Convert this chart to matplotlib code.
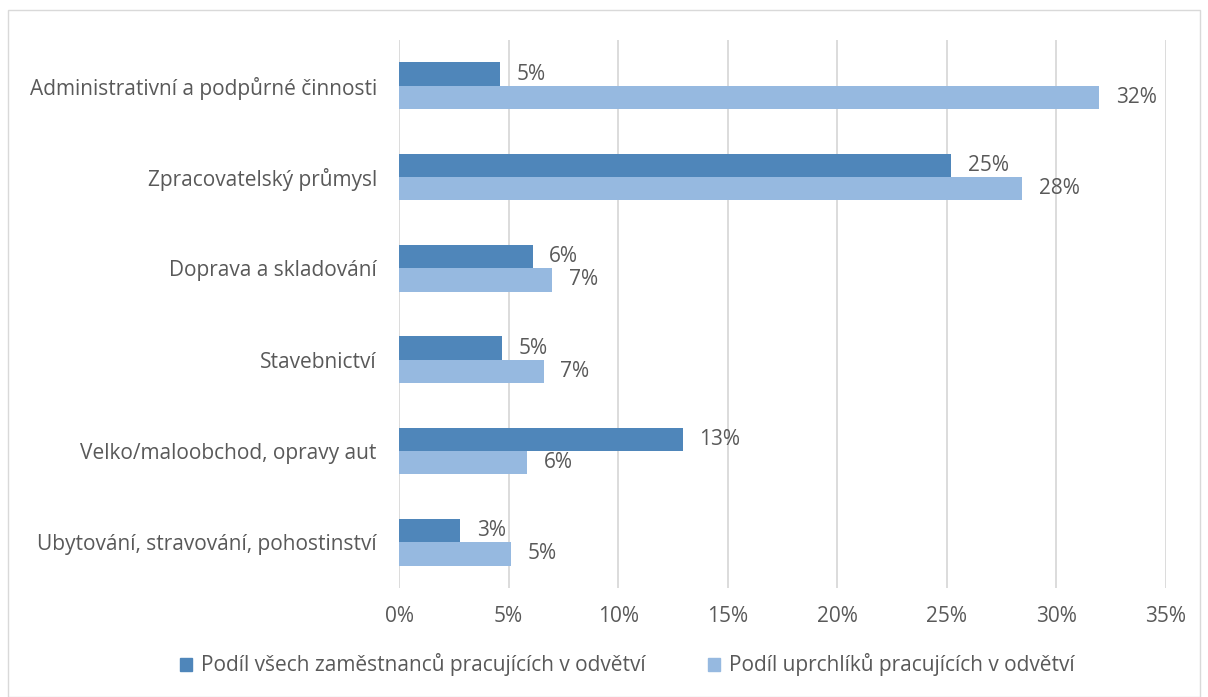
import numpy as np
import matplotlib
matplotlib.use("Agg")
from matplotlib import pyplot as plt
from matplotlib.patches import Rectangle, Patch

plt.rcParams['font.family'] = ['Open Sans', 'DejaVu Sans']

categories = ['Administrativní a podpůrné činnosti',
              'Zpracovatelský průmysl',
              'Doprava a skladování',
              'Stavebnictví',
              'Velko/maloobchod, opravy aut',
              'Ubytování, stravování, pohostinství']
vsichni = [4.6, 25.2, 6.1, 4.7, 12.95, 2.8]
uprchlici = [31.95, 28.45, 7.0, 6.6, 5.85, 5.1]
series_names = ['Podíl všech zaměstnanců pracujících v odvětví',
                'Podíl uprchlíků pracujících v odvětví']

c_dark = '#4F86BA'
c_light = '#96B9E0'
text_c = '#595959'
fs = 15

fig = plt.figure(figsize=(12.08, 6.97), dpi=100)
ax = fig.add_axes([399 / 1208, 1 - 588 / 697, 767 / 1208, 548 / 697])

y = np.arange(len(categories))
h = 0.255
ax.barh(y - h / 2, vsichni, height=h, color=c_dark, zorder=3)
ax.barh(y + h / 2, uprchlici, height=h, color=c_light, zorder=3)

for i in range(len(categories)):
    ax.text(vsichni[i] + 0.75, y[i] - h / 2, f'{round(vsichni[i]):.0f}%', va='center', ha='left',
            fontsize=fs, color=text_c)
    ax.text(uprchlici[i] + 0.75, y[i] + h / 2, f'{round(uprchlici[i]):.0f}%', va='center', ha='left',
            fontsize=fs, color=text_c)

ax.set_xlim(0, 35)
ax.set_ylim(len(categories) - 0.5, -0.5)
ax.set_xticks(np.arange(0, 36, 5))
ax.set_xticklabels([f'{v}%' for v in range(0, 36, 5)])
ax.set_yticks(y)
ax.set_yticklabels(categories)
ax.tick_params(axis='both', length=0, labelsize=fs, labelcolor=text_c)
ax.tick_params(axis='x', pad=13)
ax.tick_params(axis='y', pad=16)
ax.grid(axis='x', color='#D9D9D9', linewidth=1.3, zorder=0)
for s in ax.spines.values():
    s.set_visible(False)

handles = [Patch(color=c_dark), Patch(color=c_light)]
fig.legend(handles, series_names, loc='center', bbox_to_anchor=(627 / 1208, 1 - 665 / 697),
           ncol=2, frameon=False, fontsize=fs, labelcolor=text_c, handlelength=0.6,
           handleheight=0.6, handletextpad=0.4, columnspacing=3.0)

fig.patches.append(Rectangle((8 / 1208, 0), 1192 / 1208, 1 - 10 / 697, transform=fig.transFigure,
                             fill=False, edgecolor='#D9D9D9', linewidth=1))

fig.savefig('out.png', dpi=100)
